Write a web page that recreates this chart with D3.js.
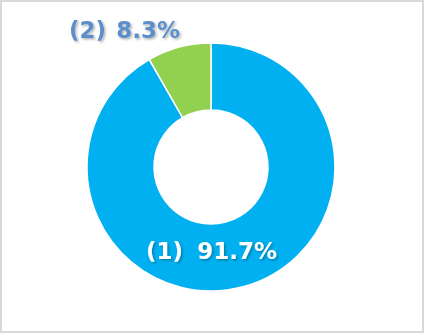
<!DOCTYPE html>
<html>
<head>
<meta charset="utf-8">
<script src="https://cdn.jsdelivr.net/npm/d3@7/dist/d3.min.js"></script>
<style>
  html, body { margin: 0; padding: 0; background: #fff; }
  svg { display: block; }
</style>
</head>
<body>
<svg id="chart" width="424" height="333"></svg>
<script>
// Share of responses per answer choice
const categories = ["(1)", "(2)"];
const values = [91.7, 8.3];
const colors = ["#00B0F0", "#92D050"];

const W = 424, H = 333;
const cx = 211, cy = 167;
const outerR = 124, innerR = 57;

const svg = d3.select("#chart");

const defs = svg.append("defs");
const shadow = defs.append("filter").attr("id", "txtShadow")
  .attr("x", "-20%").attr("y", "-40%").attr("width", "140%").attr("height", "180%");
shadow.append("feDropShadow")
  .attr("dx", 1.5).attr("dy", 1.5).attr("stdDeviation", 1.2)
  .attr("flood-color", "#000").attr("flood-opacity", 0.3);

// outer frame
svg.append("rect")
  .attr("x", 1).attr("y", 1).attr("width", W - 2).attr("height", H - 2)
  .attr("fill", "#fff").attr("stroke", "#d9d9d9").attr("stroke-width", 2);

const pie = d3.pie().sort(null).value(d => d);
const arcs = pie(values);
const arc = d3.arc().innerRadius(innerR).outerRadius(outerR);

const g = svg.append("g").attr("transform", `translate(${cx},${cy})`);
g.selectAll("path.slice")
  .data(arcs)
  .join("path")
  .attr("class", "slice")
  .attr("d", arc)
  .attr("fill", (d, i) => colors[i])
  .attr("stroke", "#fff")
  .attr("stroke-width", 1.5);

// value labels: category tag on the left, percentage on the right
const labelPos = [
  { left: 146, right: 277, y: 259, fill: "#fff" },
  { left: 69, right: 180, y: 38, fill: "#5B8ECB" }
];
const labels = svg.selectAll("g.lbl")
  .data(arcs)
  .join("g")
  .attr("class", "lbl")
  .attr("font-family", "DejaVu Sans, Verdana, sans-serif")
  .attr("font-weight", "bold")
  .attr("font-size", 23)
  .attr("fill", (d, i) => labelPos[i].fill)
  .attr("filter", "url(#txtShadow)");

labels.append("text")
  .attr("x", (d, i) => labelPos[i].left)
  .attr("y", (d, i) => labelPos[i].y)
  .attr("text-anchor", "start")
  .text((d, i) => categories[i]);

labels.append("text")
  .attr("x", (d, i) => labelPos[i].right)
  .attr("y", (d, i) => labelPos[i].y)
  .attr("text-anchor", "end")
  .text(d => `${d.data.toFixed(1)}%`);
</script>
</body>
</html>
